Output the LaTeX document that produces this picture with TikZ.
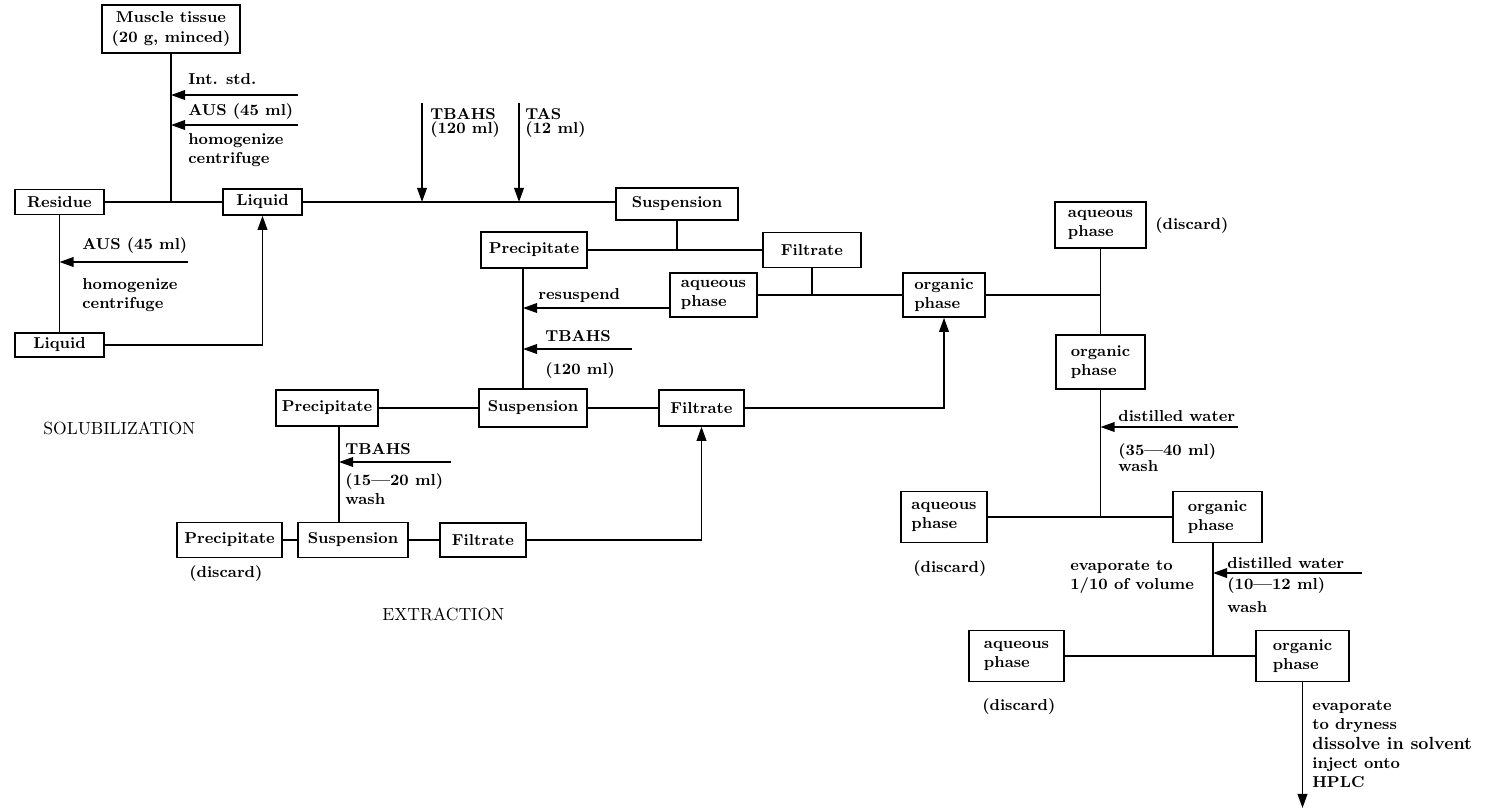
\documentclass[tikz,border=0pt]{standalone}
\usepackage{tikz}
\usetikzlibrary{arrows.meta,calc}

\begin{document}
\begin{tikzpicture}[>={Triangle[length=8pt,width=5.5pt]}, x=0.02cm, y=-0.02cm,
    boite/.style={draw, line width=0.9pt, inner sep=1pt, align=left, font=\small\bfseries},
    trait/.style={line width=0.9pt},
    texte/.style={anchor=north west, inner sep=0pt, align=left, font=\small\bfseries},
    titre/.style={anchor=north west, inner sep=0pt, font=\normalsize}]

    \useasboundingbox (0, 0) rectangle (1493, 809);

    % Boîtes solubilisation
    \node[boite, align=center, minimum width=2.76cm, minimum height=0.96cm] (muscle) at (171, 29) {Muscle tissue\\(20 g, minced)};
    \node[boite, minimum width=1.78cm, minimum height=0.5cm] (residu) at (59.5, 202) {Residue};
    \node[boite, minimum width=1.58cm, minimum height=0.52cm] (liquide) at (262.5, 202) {Liquid};
    \node[boite, minimum width=1.78cm, minimum height=0.48cm] (liquidebis) at (59.5, 345) {Liquid};

    % Flèches solubilisation
    \coordinate (jmuscle) at (muscle.south |- residu.east);
    \draw[trait] (muscle) -- (jmuscle);
    \draw[trait] (residu) -- (liquide);
    \coordinate (istd) at (298, 95);
    \coordinate (aus) at (298, 125);
    \draw[trait, ->] (istd) -- (istd -| muscle.south);
    \draw[trait, ->] (aus) -- (aus -| muscle.south);
    \draw[trait] (residu) -- (liquidebis);
    \coordinate (ausbis) at (188, 262);
    \draw[trait, ->] (ausbis) -- (ausbis -| residu.south);
    \draw[trait, ->] (liquidebis) -| (liquide);

    \node[texte] (istdtxt) at (188, 73) {Int. std.};
    \node[texte] (austxt) at (188, 103) {AUS (45 ml)};
    \node[texte] (homogtxt) at (188, 133) {homogenize\\centrifuge};
    \node[texte] (ausbistxt) at (82, 237) {AUS (45 ml)};
    \node[texte] (homogbistxt) at (82, 278) {homogenize\\centrifuge};
    \node[titre] (soltxt) at (43, 422) {SOLUBILIZATION};

    % Boîtes extraction
    \node[boite, minimum width=2.44cm, minimum height=0.64cm] (susp) at (677, 204) {Suspension};
    \node[boite, minimum width=2.12cm, minimum height=0.72cm] (precip) at (534, 250) {Precipitate};
    \node[boite, minimum width=1.96cm, minimum height=0.7cm] (filtrat) at (812, 250) {Filtrate};
    \node[boite, minimum width=1.74cm, minimum height=0.88cm] (aqueux) at (713.5, 295) {aqueous\\phase};
    \node[boite, minimum width=1.64cm, minimum height=0.88cm] (organ) at (944, 295) {organic\\phase};
    \node[boite, minimum width=2.16cm, minimum height=0.76cm] (suspbis) at (533, 408) {Suspension};
    \node[boite, minimum width=2.04cm, minimum height=0.72cm] (precipbis) at (327, 408) {Precipitate};
    \node[boite, minimum width=1.7cm, minimum height=0.72cm] (filtratbis) at (701.5, 408) {Filtrate};
    \node[boite, minimum width=2.1cm, minimum height=0.7cm] (precipter) at (229.5, 540) {Precipitate};
    \node[boite, minimum width=2.2cm, minimum height=0.7cm] (suspter) at (353, 540) {Suspension};
    \node[boite, minimum width=1.72cm, minimum height=0.68cm] (filtratter) at (483, 540) {Filtrate};

    % Flèches extraction
    \draw[trait] (liquide) -- (liquide -| susp.west);
    \coordinate (tbahs) at (422, 103);
    \coordinate (tas) at (519, 103);
    \draw[trait, ->] (tbahs) -- (tbahs |- liquide.east);
    \draw[trait, ->] (tas) -- (tas |- liquide.east);
    \coordinate (jsusp) at (susp.south |- precip.east);
    \draw[trait] (susp) -- (jsusp);
    \draw[trait] (precip) -- (filtrat);
    \coordinate (jfiltrat) at (filtrat.south |- aqueux.east);
    \draw[trait] (filtrat) -- (jfiltrat);
    \draw[trait] (aqueux) -- (organ);
    \coordinate (precipbas) at ([xshift=-0.22cm]precip.south);
    \draw[trait] (precipbas) -- (precipbas |- suspbis.north);
    \draw[trait, ->] ([yshift=-0.26cm]aqueux.west) -- ([yshift=-0.26cm]aqueux.west -| precipbas);
    \coordinate (tbahsbis) at (632, 349);
    \draw[trait, ->] (tbahsbis) -- (tbahsbis -| precipbas);
    \draw[trait] (precipbis) -- (suspbis) -- (filtratbis);
    \draw[trait, ->] (filtratbis) -| (organ);
    \coordinate (precipbisbas) at ([xshift=0.24cm]precipbis.south);
    \draw[trait] (precipbisbas) -- (precipbisbas |- suspter.north);
    \coordinate (tbahster) at (451, 462);
    \draw[trait, ->] (tbahster) -- (tbahster -| precipbisbas);
    \draw[trait] (precipter) -- (suspter) -- (filtratter);
    \draw[trait, ->] (filtratter) -| (filtratbis);

    \node[texte] (tbahstxt) at (430, 108) {TBAHS\\[-3pt](120 ml)};
    \node[texte] (tastxt) at (525, 108) {TAS\\[-3pt](12 ml)};
    \node[texte] (resusptxt) at (538, 288) {resuspend};
    \node[texte] (tbahsbistxt) at (545, 330) {TBAHS};
    \node[texte] (volbistxt) at (545, 362) {(120 ml)};
    \node[texte] (tbahstertxt) at (345, 443) {TBAHS};
    \node[texte] (volbistxt) at (345, 473) {(15---20 ml)\\wash};
    \node[texte] (jetertxt) at (189, 565) {(discard)};
    \node[titre] (extrtxt) at (382, 608) {EXTRACTION};

    % Boîtes lavage
    \node[boite, minimum width=1.82cm, minimum height=0.92cm] (aqueuxbis) at (1100.5, 225) {aqueous\\phase};
    \node[boite, minimum width=1.78cm, minimum height=1.08cm] (organbis) at (1100.5, 362) {organic\\phase};
    \node[boite, minimum width=1.72cm, minimum height=1.02cm] (aqueuxter) at (944, 517) {aqueous\\phase};
    \node[boite, minimum width=1.78cm, minimum height=1.02cm] (organter) at (1217.5, 517) {organic\\phase};
    \node[boite, minimum width=1.9cm, minimum height=1.02cm] (aqueuxquat) at (1016.5, 656) {aqueous\\phase};
    \node[boite, minimum width=1.86cm, minimum height=1.02cm] (organquat) at (1302.5, 656) {organic\\phase};

    % Flèches lavage
    \coordinate (jorgan) at (aqueuxbis.south |- organ.east);
    \draw[trait] (organ) -- (jorgan);
    \draw[trait] (aqueuxbis) -- (organbis);
    \coordinate (jorganbis) at (organbis.south |- aqueuxter.east);
    \draw[trait] (organbis) -- (jorganbis);
    \draw[trait] (aqueuxter) -- (organter);
    \coordinate (eau) at (1238, 427);
    \draw[trait, ->] (eau) -- (eau -| organbis.south);
    \coordinate (organterbas) at ([xshift=-0.09cm]organter.south);
    \coordinate (jorganter) at (organterbas |- aqueuxquat.east);
    \draw[trait] (organterbas) -- (jorganter);
    \draw[trait] (aqueuxquat) -- (organquat);
    \coordinate (eaubis) at (1362, 573);
    \draw[trait, ->] (eaubis) -- (eaubis -| organterbas);
    \coordinate (hplc) at (1302.5, 808);
    \draw[trait, ->] (organquat) -- (hplc);

    \node[texte] (jetebistxt) at (1155, 217) {(discard)};
    \node[texte] (eautxt) at (1118, 410) {distilled water};
    \node[texte] (voleautxt) at (1118, 443) {(35---40 ml)\\[-1.5pt]wash};
    \node[texte] (jetetertxt) at (913, 560) {(discard)};
    \node[texte] (evaptxt) at (1070, 560) {evaporate to\\1/10 of volume};
    \node[texte] (eaubistxt) at (1227, 557) {distilled water};
    \node[texte] (voleaubistxt) at (1227, 577) {(10---12 ml)\\[2.5pt]wash};
    \node[texte] (jetequattxt) at (982, 698) {(discard)};
    \node[texte] (hplctxt) at (1312, 700) {evaporate\\to dryness\\{\normalsize dissolve in solvent}\\inject onto\\HPLC};
\end{tikzpicture}
\end{document}
